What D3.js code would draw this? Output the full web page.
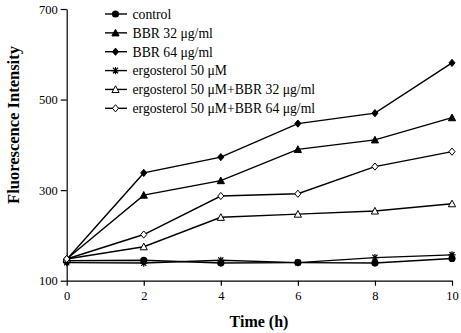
<!DOCTYPE html>
<html><head><meta charset="utf-8">
<script src="https://cdn.jsdelivr.net/npm/d3@7"></script>
<style>body{margin:0;background:#fff}svg{display:block}</style>
</head><body>
<script>
const times = [0, 2, 4, 6, 8, 10];
const control = [144, 145, 139, 140, 139, 149];
const bbr32 = [148, 289, 321, 390, 411, 460];
const bbr64 = [147, 338, 373, 447, 470, 581];
const ergo = [140, 139, 145, 140, 151, 157];
const ergoBbr32 = [148, 175, 240, 247, 254, 270];
const ergoBbr64 = [148, 202, 287, 292, 352, 385];
const seriesNames = ["control", "BBR 32 μg/ml", "BBR 64 μg/ml", "ergosterol 50 μM", "ergosterol 50 μM+BBR 32 μg/ml", "ergosterol 50 μM+BBR 64 μg/ml"];
const yTicks = [100, 300, 500, 700];
const xTicks = [0, 2, 4, 6, 8, 10];

const seriesValues = [control, bbr32, bbr64, ergo, ergoBbr32, ergoBbr64];
const markerTypes = ["circle", "triFill", "diaFill", "star", "triOpen", "diaOpen"];

const W = 461, H = 333;
const svg = d3.select("body").append("svg").attr("width", W).attr("height", H);
const x = d3.scaleLinear().domain([0, 10]).range([66.7, 452]);
const y = d3.scaleLinear().domain([100, 700]).range([280.7, 9]);
const font = "'Liberation Serif', 'Times New Roman', serif";

const xAxis = svg.append("g").attr("transform", `translate(0,${y(100)})`)
  .call(d3.axisBottom(x).tickValues(xTicks).tickSize(5).tickSizeOuter(0).tickPadding(5));
const yAxis = svg.append("g").attr("transform", `translate(${x(0)},0)`)
  .call(d3.axisLeft(y).tickValues(yTicks).tickSize(6).tickSizeOuter(0).tickPadding(3));
[xAxis, yAxis].forEach(a => {
  a.selectAll("path,line").attr("stroke", "#000").attr("stroke-width", 1.2);
  a.selectAll("text").attr("font-family", font).attr("font-size", 12.5).attr("fill", "#000");
});

svg.append("text").attr("x", 259).attr("y", 327).attr("text-anchor", "middle")
  .attr("font-family", font).attr("font-weight", "bold").attr("font-size", 16).text("Time (h)");
svg.append("text").attr("transform", `translate(19,125) rotate(-90)`).attr("text-anchor", "middle")
  .attr("font-family", font).attr("font-weight", "bold").attr("font-size", 16.5).text("Fluorescence Intensity");

function marker(g, type) {
  const s = 3.6;
  if (type === "circle") g.append("circle").attr("r", 3.6).attr("fill", "#000");
  else if (type === "triFill" || type === "triOpen")
    g.append("path").attr("d", `M0,${-s}L${s},${s*0.85}L${-s},${s*0.85}Z`)
      .attr("fill", type === "triFill" ? "#000" : "#fff").attr("stroke", "#000").attr("stroke-width", 1);
  else if (type === "diaFill" || type === "diaOpen")
    g.append("path").attr("d", `M0,${-s}L${s*0.85},0L0,${s}L${-s*0.85},0Z`)
      .attr("fill", type === "diaFill" ? "#000" : "#fff").attr("stroke", "#000").attr("stroke-width", 1);
  else if (type === "star") {
    g.append("path").attr("d", `M${-s},0L${s},0M${-s*0.7},${-s*0.8}L${s*0.7},${s*0.8}M${s*0.7},${-s*0.8}L${-s*0.7},${s*0.8}M0,${-s}L0,${s}`)
      .attr("stroke", "#000").attr("stroke-width", 1.2).attr("fill", "none");
  }
}

const line = d3.line().x((d, i) => x(times[i])).y(d => y(d));
seriesValues.forEach((vals, k) => {
  svg.append("path").attr("d", line(vals)).attr("fill", "none").attr("stroke", "#000").attr("stroke-width", 1.4);
});
seriesValues.forEach((vals, k) => {
  vals.forEach((v, i) => {
    const g = svg.append("g").attr("transform", `translate(${x(times[i])},${y(v)})`);
    marker(g, markerTypes[k]);
  });
});

const legY = d3.scalePoint().domain(seriesNames).range([14, 108.3]);
seriesNames.forEach((name, k) => {
  const yy = legY(name);
  svg.append("line").attr("x1", 105).attr("x2", 127).attr("y1", yy).attr("y2", yy)
    .attr("stroke", "#000").attr("stroke-width", 1.4);
  marker(svg.append("g").attr("transform", `translate(115.5,${yy})`), markerTypes[k]);
  svg.append("text").attr("x", 132.5).attr("y", yy).attr("dy", "0.35em")
    .attr("font-family", font).attr("font-size", 13.7).attr("fill", "#000").text(name);
});
</script>
</body></html>
